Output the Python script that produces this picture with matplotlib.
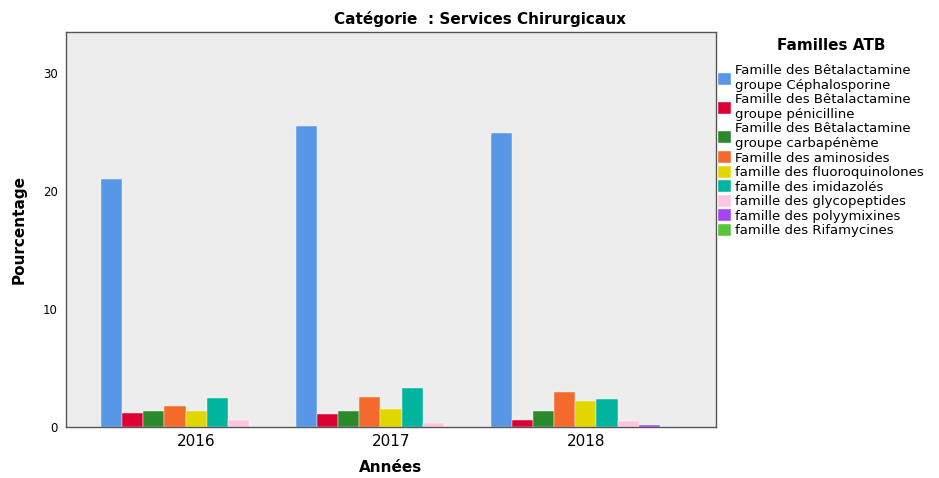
import numpy as np
import matplotlib
matplotlib.use('Agg')
import matplotlib.pyplot as plt

years = ['2016', '2017', '2018']
families = [
    'Famille des Bêtalactamine\ngroupe Céphalosporine',
    'Famille des Bêtalactamine\ngroupe pénicilline',
    'Famille des Bêtalactamine\ngroupe carbapénème',
    'Famille des aminosides',
    'famille des fluoroquinolones',
    'famille des imidazolés',
    'famille des glycopeptides',
    'famille des polyymixines',
    'famille des Rifamycines',
]
colors = ['#5896E6', '#DC0035', '#2A892A', '#F46A2C', '#E2D600',
          '#00B4A0', '#FFC4DF', '#A545F2', '#5CC43C']

# percentages per family, one value per year
cephalosporine = [21.0, 25.5, 24.9]
penicilline = [1.15, 1.1, 0.6]
carbapeneme = [1.38, 1.38, 1.32]
aminosides = [1.8, 2.57, 2.95]
fluoroquinolones = [1.38, 1.55, 2.18]
imidazoles = [2.42, 3.3, 2.4]
glycopeptides = [0.6, 0.3, 0.55]
polyymixines = [0.0, 0.0, 0.17]
rifamycines = [0.0, 0.0, 0.0]

values = [cephalosporine, penicilline, carbapeneme, aminosides,
          fluoroquinolones, imidazoles, glycopeptides, polyymixines,
          rifamycines]

fig = plt.figure(figsize=(9.39, 4.78), dpi=100)
ax = fig.add_axes([66 / 939, 1 - 427 / 478, 650 / 939, 395 / 478])
ax.set_facecolor('#EDEDED')

x = np.arange(len(years))
n = len(families)
width = 0.108
for i, (lab, vals) in enumerate(zip(families, values)):
    offs = (i - (n - 1) / 2) * width
    ax.bar(x + offs, vals, width, color=colors[i], label=lab,
           edgecolor='white', linewidth=0.3)

ax.set_xlim(-0.667, 2.667)
ax.set_ylim(0, 33.5)
ax.set_yticks([0, 10, 20, 30])
ax.set_xticks(x)
ax.set_xticklabels(years, fontsize=11)
ax.tick_params(axis='y', length=0, labelsize=8.5, pad=6)
ax.tick_params(axis='x', length=0, pad=5)
for s in ax.spines.values():
    s.set_color('#555555')
    s.set_linewidth(1.0)

ax.set_xlabel('Années', fontsize=11, fontweight='bold', labelpad=8)
ax.set_ylabel('Pourcentage', fontsize=11, fontweight='bold', labelpad=12)

fig.text(480 / 939, 1 - 19 / 478, 'Catégorie  : Services Chirurgicaux',
         ha='center', va='center', fontsize=11, fontweight='bold')

# legend title drawn on its own for tighter placement
fig.text(831 / 939, 1 - 46 / 478, 'Familles ATB', ha='center', va='center',
         fontsize=11, fontweight='bold')
leg = fig.legend(loc='upper left', bbox_to_anchor=(713 / 939, 1 - 59 / 478),
                 frameon=False, fontsize=9.5,
                 handlelength=1.0, handleheight=1.0, handletextpad=0.3,
                 labelspacing=0.08, borderaxespad=0)

plt.savefig('out.png', dpi=100)
plt.close()
